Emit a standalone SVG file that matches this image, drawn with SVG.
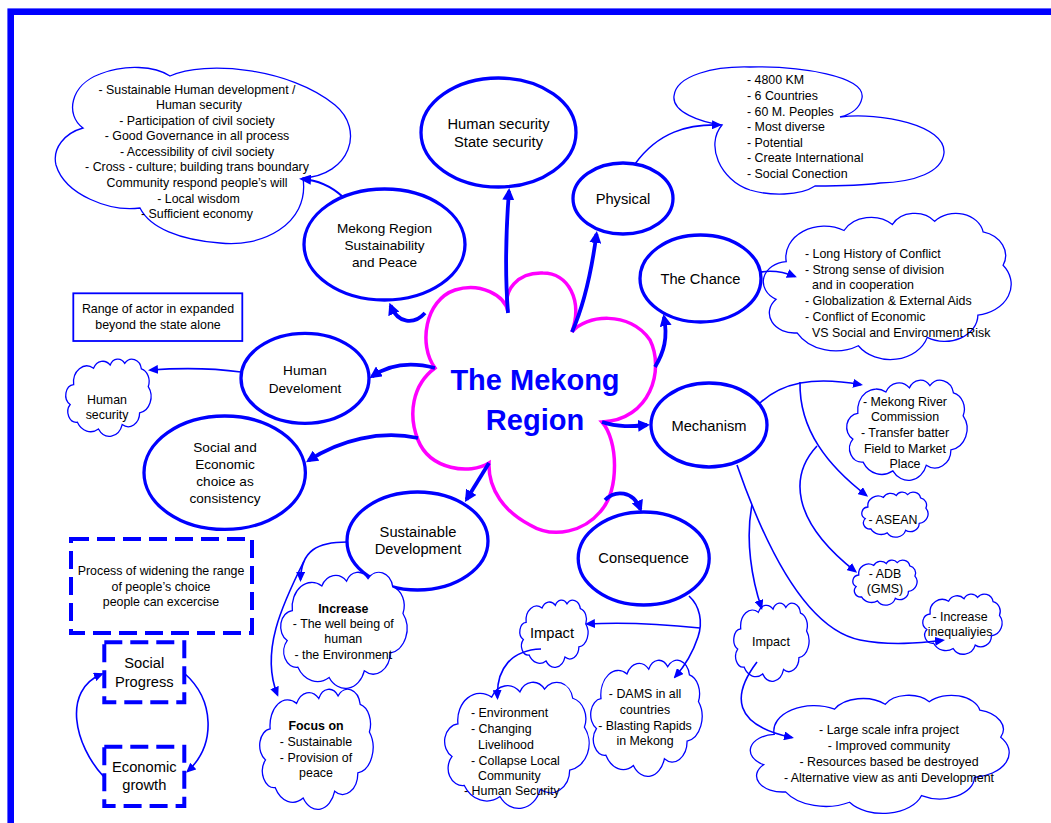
<svg xmlns="http://www.w3.org/2000/svg" width="1051" height="823" viewBox="0 0 1051 823">
<defs>
<style>
text{font-family:"Liberation Sans",Arial,Helvetica,sans-serif;fill:#000}
.e{fill:#fff;stroke:#0000ff;stroke-width:3.3}
.cl{fill:#fff;stroke:#0000ff;stroke-width:1.3}
.c{text-anchor:middle}
.f15{font-size:14.7px}
.f14{font-size:13.6px}
.f12{font-size:12.4px}
.b{font-weight:bold}
.thick{fill:none;stroke:#0000ff;stroke-width:3.8;marker-end:url(#ah)}
.med{fill:none;stroke:#0000ff;stroke-width:2.2;marker-end:url(#am)}
.thin{fill:none;stroke:#0000ff;stroke-width:1.6;marker-end:url(#at)}
.dash{fill:#fff;stroke:#0000ff;stroke-width:4;stroke-dasharray:18 8}
</style>
<path id="cloud" vector-effect="non-scaling-stroke" d="M9,33.3 A15.6,21.3 0 0 1 32.4,12 A12.3,16.8 0 0 1 52,7.9 A10.1,13.8 0 0 1 69.1,5.7 A11.2,15.3 0 0 1 88.7,12.9 A12.3,16.8 0 0 1 96.8,35.8 A15.7,21.3 0 0 1 86.6,69.9 A13.4,18.2 0 0 1 66.1,85.2 A15.6,21.3 0 0 1 38.2,90.9 A17.9,24.4 0 0 1 13.4,82.1 A10.1,13.7 0 0 1 4.9,59.1 A10.1,13.8 0 0 1 9,33.3 Z"/>
<marker id="ah" markerUnits="userSpaceOnUse" viewBox="0 0 12 12" refX="9" refY="6" markerWidth="12" markerHeight="12" orient="auto"><path d="M0,0L12,6L0,12Z" fill="#0000ff"/></marker>
<marker id="am" markerUnits="userSpaceOnUse" viewBox="0 0 12 10" refX="9" refY="5" markerWidth="12" markerHeight="10" orient="auto"><path d="M0,0L12,5L0,10Z" fill="#0000ff"/></marker>
<marker id="at" markerUnits="userSpaceOnUse" viewBox="0 0 10 9" refX="8" refY="4.5" markerWidth="10" markerHeight="9" orient="auto"><path d="M0,0L10,4.5L0,9Z" fill="#0000ff"/></marker>
</defs>
<rect width="1051" height="823" fill="#fff"/>
<rect x="10.7" y="11.7" width="1100" height="900" fill="none" stroke="#0000ff" stroke-width="6.6"/>

<g id="mekong-region">
<path d="M508,312 C502,290 518,272 543,273 C568,273 583,300 572,332 C585,315 630,310 650,340 C665,370 650,420 602,422 C618,440 620,490 600,512 C585,530 555,540 530,525 C505,512 488,490 489,463 C470,475 430,470 418,440 C408,415 412,385 435,368 C418,345 425,300 455,290 C480,282 505,295 508,312 Z" fill="#fff" stroke="#ff00ff" stroke-width="3.5"/>
<text class="c b" x="535" y="390" font-size="29" style="fill:#0000ff">The Mekong</text>
<text class="c b" x="535" y="430" font-size="29" style="fill:#0000ff">Region</text>
</g>

<g id="goals-cloud">
<path class="cl" d="M83,128 C65,115 70,85 100,74 C125,64 155,66 170,76 C205,60 290,68 335,105 C365,130 350,175 303,178 C310,225 260,248 220,243 C180,240 150,228 140,208 C110,212 65,195 56,165 C52,148 65,133 83,128 Z"/>
<text class="c f12" x="197"><tspan x="197" y="93.5">- Sustainable Human development /</tspan><tspan x="199" y="109">Human security</tspan><tspan x="197" y="124.6">- Participation of civil society</tspan><tspan x="197" y="140.2">- Good Governance in all process</tspan><tspan x="197" y="155.8">- Accessibility of civil society</tspan><tspan x="197" y="171.4">- Cross - culture; building trans boundary</tspan><tspan x="197" y="187">Community respond people’s will</tspan><tspan x="198.5" y="202.6">- Local wisdom</tspan><tspan x="197" y="218.2">- Sufficient economy</tspan></text>
</g>

<g id="human-state-security">
<ellipse class="e" cx="498.5" cy="132.5" rx="77.5" ry="54.5"/>
<text class="c f15" x="498.5" y="129">Human security</text>
<text class="c f15" x="498.5" y="147">State security</text>
</g>

<g id="sustainability-peace">
<ellipse class="e" cx="384.5" cy="244.5" rx="80.5" ry="55.5"/>
<text class="c f14" x="384.5" y="233">Mekong Region</text>
<text class="c f14" x="384.5" y="250">Sustainability</text>
<text class="c f14" x="384.5" y="267">and Peace</text>
</g>

<g id="physical">
<ellipse class="e" cx="623" cy="198.5" rx="50" ry="35.5"/>
<text class="c f15" x="623" y="204">Physical</text>
</g>

<g id="physical-cloud">
<path class="cl" d="M722,125 C700,122 672,112 674,96 C676,75 715,66 750,67 C800,66 866,76 862,98 C860,108 852,114 840,117 C880,112 946,125 944,153 C942,172 915,182 880,183 C860,186 830,186 815,186 C800,196 770,196 750,190 C720,180 705,145 722,125 Z"/>
<text class="f12"><tspan x="747" y="84.3">- 4800 KM</tspan><tspan x="747" y="100">- 6 Countries</tspan><tspan x="747" y="115.6">- 60 M. Peoples</tspan><tspan x="747" y="131.2">- Most diverse</tspan><tspan x="747" y="146.8">- Potential</tspan><tspan x="747" y="162.4">- Create International</tspan><tspan x="747" y="178">- Social Conection</tspan></text>
</g>

<g id="the-chance">
<ellipse class="e" cx="700.5" cy="278.5" rx="60.5" ry="43.5"/>
<text class="c f15" x="700.5" y="283.5">The Chance</text>
</g>

<g id="chance-cloud">
<use href="#cloud" class="cl" transform="translate(764,213) scale(2.47,1.46)"/>
<text class="f12"><tspan x="805" y="257.7">- Long History of Conflict</tspan><tspan x="805" y="273.5">- Strong sense of division</tspan><tspan x="812" y="289.3">and in cooperation</tspan><tspan x="805" y="305.1">- Globalization &amp; External Aids</tspan><tspan x="805" y="320.9">- Conflict of Economic</tspan><tspan x="812" y="336.7">VS Social and Environment Risk</tspan></text>
</g>

<g id="range-actor">
<rect x="73.3" y="293.3" width="169" height="47.7" fill="#fff" stroke="#0000ff" stroke-width="1.8"/>
<text class="c f12" x="158" y="313.3">Range of actor in expanded</text>
<text class="c f12" x="158" y="329">beyond the state alone</text>
</g>

<g id="human-development">
<ellipse class="e" cx="305" cy="378.3" rx="64" ry="45"/>
<text class="c f14" x="305" y="375">Human</text>
<text class="c f14" x="305" y="392.7">Develoment</text>
</g>

<g id="human-security-cloud">
<use href="#cloud" class="cl" transform="translate(66,359) scale(0.85,0.77)"/>
<text class="c f12" x="107" y="404">Human</text>
<text class="c f12" x="107" y="419.3">security</text>
</g>

<g id="social-economic">
<ellipse class="e" cx="224.7" cy="472.7" rx="80.7" ry="56.7"/>
<text class="c f14" x="225" y="451.7">Social and</text>
<text class="c f14" x="225" y="469.3">Economic</text>
<text class="c f14" x="225" y="486">choice as</text>
<text class="c f14" x="225" y="502.7">consistency</text>
</g>

<g id="mechanism">
<ellipse class="e" cx="709" cy="425" rx="58" ry="42"/>
<text class="c f15" x="709" y="431">Mechanism</text>
</g>

<g id="mrc-cloud">
<use href="#cloud" class="cl" transform="translate(847,380) scale(1.2,1)"/>
<text class="c f12"><tspan x="905" y="405.7">- Mekong River</tspan><tspan x="905" y="421.3">Commission</tspan><tspan x="905" y="437.1">- Transfer batter</tspan><tspan x="905" y="452.9">Field to Market</tspan><tspan x="905" y="468.3">Place</tspan></text>
</g>

<g id="asean-cloud">
<use href="#cloud" class="cl" transform="translate(862,492) scale(0.66,0.45)"/>
<text class="c f12" x="893" y="524">- ASEAN</text>
</g>

<g id="adb-cloud">
<use href="#cloud" class="cl" transform="translate(853,560) scale(0.64,0.45)"/>
<text class="c f12" x="885" y="578.3">- ADB</text>
<text class="c f12" x="885" y="592.7">(GMS)</text>
</g>

<g id="inequality-cloud">
<use href="#cloud" class="cl" transform="translate(923,594) scale(0.79,0.6)"/>
<text class="c f12" x="960" y="620.7">- Increase</text>
<text class="c f12" x="960" y="635.7">inequaliyies</text>
</g>

<g id="impact-mechanism-cloud">
<use href="#cloud" class="cl" transform="translate(734,603) scale(0.75,0.78)"/>
<text class="c" x="771" y="646" font-size="12.6">Impact</text>
</g>

<g id="infra-cloud">
<use href="#cloud" class="cl" transform="translate(751,695) scale(2.58,1.18)"/>
<text class="c f12"><tspan x="889" y="733.5">- Large scale infra project</tspan><tspan x="889" y="749.5">- Improved community</tspan><tspan x="889" y="765.7">- Resources based be destroyed</tspan><tspan x="889" y="781.7">- Alternative view as anti Development</tspan></text>
</g>

<g id="sustainable-development">
<ellipse class="e" cx="417.5" cy="541" rx="70.5" ry="49"/>
<text class="c f15" x="418" y="537">Sustainable</text>
<text class="c f15" x="418" y="553.5">Development</text>
</g>

<g id="consequence">
<ellipse class="e" cx="643.7" cy="558.5" rx="65.5" ry="46.5"/>
<text class="c f15" x="643.7" y="563.3">Consequence</text>
</g>

<g id="impact-consequence-cloud">
<use href="#cloud" class="cl" transform="translate(520,600) scale(0.68,0.67)"/>
<text class="c f15" x="552" y="637.5">Impact</text>
</g>

<g id="environment-cloud">
<use href="#cloud" class="cl" transform="translate(445,682) scale(1.44,1.26)"/>
<text class="f12"><tspan x="471" y="717">- Environment</tspan><tspan x="471" y="733">- Changing</tspan><tspan x="478" y="748.7">Livelihood</tspan><tspan x="471" y="764.7">- Collapse Local</tspan><tspan x="478" y="779.5">Community</tspan><tspan x="464" y="795.3">- Human Security</tspan></text>
</g>

<g id="dams-cloud">
<use href="#cloud" class="cl" transform="translate(591,660) scale(1.11,1.16)"/>
<text class="c f12"><tspan x="645" y="698.3">- DAMS in all</tspan><tspan x="645" y="714">countries</tspan><tspan x="645" y="729.8">- Blasting Rapids</tspan><tspan x="645" y="745">in Mekong</tspan></text>
</g>

<g id="increase-cloud">
<use href="#cloud" class="cl" transform="translate(281,572) scale(1.26,1.16)"/>
<text class="c f12"><tspan class="b" x="343.3" y="612.7">Increase</tspan><tspan x="343.3" y="627.5">- The well being of</tspan><tspan x="343.3" y="643">human</tspan><tspan x="343.3" y="659">- the Environment</tspan></text>
</g>

<g id="focus-cloud">
<use href="#cloud" class="cl" transform="translate(260,689) scale(1.13,1.2)"/>
<text class="c f12"><tspan class="b" x="316" y="730">Focus on</tspan><tspan x="316" y="746">- Sustainable</tspan><tspan x="316" y="761.5">- Provision of</tspan><tspan x="316" y="776.7">peace</tspan></text>
</g>

<g id="process-box">
<rect class="dash" x="71" y="539" width="181" height="94"/>
<text class="c f12" x="161" y="575">Process of widening the range</text>
<text class="c f12" x="161" y="591">of people’s choice</text>
<text class="c f12" x="161" y="606.3">people can excercise</text>
</g>

<g id="social-progress">
<rect class="dash" x="104.3" y="642.3" width="80" height="60"/>
<text class="c f15" x="144.3" y="668">Social</text>
<text class="c f15" x="144.3" y="686.7">Progress</text>
</g>

<g id="economic-growth">
<rect class="dash" x="104.3" y="746.7" width="80" height="59.3"/>
<text class="c f15" x="144.3" y="772.3">Economic</text>
<text class="c f15" x="144.3" y="790">growth</text>
</g>

<g id="connectors">
<path class="thick" d="M508,313 C505,275 506,230 509,191"/>
<path class="thick" d="M572,332 C584,305 592,268 596.5,234"/>
<path class="thick" d="M655,367 C664,352 668,338 664,317"/>
<path class="thick" d="M425,313 C414,325 398,324 390.5,305.5"/>
<path class="thick" d="M435,368 C412,362 390,364 372,376.5"/>
<path class="thick" d="M418,438 C380,430 340,440 308.5,460.5"/>
<path class="thick" d="M489,463 L466.5,499.5"/>
<path class="thick" d="M602,422 C620,428 635,426 647,425"/>
<path class="thick" d="M605,500 C615,490 633,490 640.5,509.5"/>
<path class="med" d="M343,197 C330,185 316,180 302,179"/>
<path class="thin" d="M241,372 C212,368 178,368 150,370"/>
<path class="thin" d="M635,164 C658,132 688,124 720,125"/>
<path class="thin" d="M761,272 C774,270 784,272 795,276.5"/>
<path class="thin" d="M760,403 C782,383 812,376 861,384.7"/>
<path class="thin" d="M800,382 C799,430 828,466 866.5,495.5"/>
<path class="thin" d="M817,446 C790,475 790,520 855.5,571.5"/>
<path class="thin" d="M737,465 C770,560 810,630 860,640 C890,646 920,643 943,640.3"/>
<path class="thin" d="M752,505 C745,540 752,580 761.5,608"/>
<path class="thin" d="M757,662 C732,695 732,725 792,737.5"/>
<path class="thin" d="M689,596 C700,606 703,622 698,637 C692,655 683,668 675,677"/>
<path class="thin" d="M700,628 C662,624 622,622 587,624"/>
<path class="thin" d="M541,649 C512,650 496,668 497.5,698"/>
<path class="thin" d="M347,542 C318,542 301,550 300.5,580"/>
<path class="thin" d="M304,561 C282,605 260,652 277.5,695"/>
<path class="thin" d="M184,673 C215,700 216,745 187.5,771.5"/>
<path class="thin" d="M104,777 C74,745 62,690 102,674"/>
</g>
</svg>
